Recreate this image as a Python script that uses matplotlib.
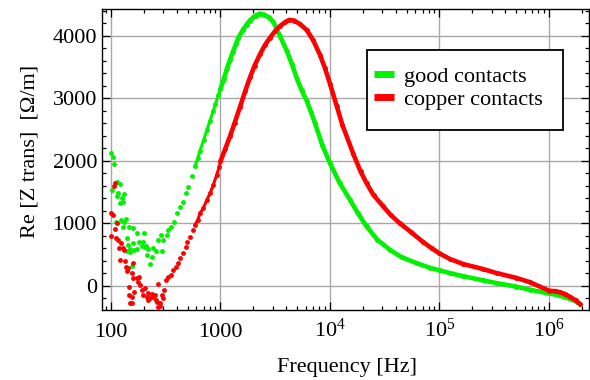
import matplotlib
matplotlib.use("Agg")
import matplotlib.pyplot as plt
from matplotlib.lines import Line2D
from matplotlib.patches import Rectangle
from matplotlib.ticker import FixedLocator, LogLocator, MultipleLocator, NullFormatter
import numpy as np

plt.rcParams['font.family'] = ['Liberation Serif', 'DejaVu Serif']
plt.rcParams['mathtext.fontset'] = 'custom'
plt.rcParams['mathtext.rm'] = 'Liberation Serif'
plt.rcParams['mathtext.it'] = 'Liberation Serif:italic'

# ---------------- data ----------------
green_freq = [101, 104, 107, 103, 114, 121, 131, 113, 128, 121, 111, 131, 137, 147, 160,
              174, 201, 158, 181, 191, 204, 141, 149, 162, 172, 219, 243, 212, 235, 227,
              154, 290, 270, 300, 284, 117, 125, 123, 130, 140, 143, 148, 196, 208, 256,
              322, 334, 351, 376, 398, 427, 451, 484, 508, 546, 584, 620, 650, 700, 750, 802,
              860, 900, 955, 1000, 1070, 1140, 1220, 1300, 1380, 1455, 1600, 1735, 1850,
              2000, 2100, 2295, 2500, 2750, 3035, 3500, 4020, 4500, 5000, 5500, 6120,
              6700, 7300, 8500, 10000, 12300, 15240, 18000, 21600, 27000, 35300, 45000,
              62000, 81900, 100000, 124700, 164700, 250000, 333000, 500000, 670000,
              1000000, 1200000, 1400000, 1600000, 1800000, 1920000]
green_val = [2126, 2062, 1946, 1531, 1663, 1622, 1462, 1435, 1345, 1329, 1016, 1026, 1064, 946, 920,
             850, 850, 681, 707, 643, 627, 563, 585, 574, 590, 585, 601, 494, 467, 351,
             319, 563, 734, 734, 813, 1480, 1400, 1053, 946, 760, 654, 547, 700, 640, 560,
             813, 893, 946, 1026, 1160, 1265, 1345, 1478, 1584, 1755, 1910, 2040, 2157, 2327, 2486, 2640,
             2800, 2907, 3044, 3150, 3300, 3460, 3610, 3740, 3860, 3963, 4090, 4176, 4240,
             4290, 4320, 4350, 4335, 4290, 4220, 3990, 3760, 3540, 3310, 3130, 2960,
             2780, 2600, 2250, 1960, 1640, 1376, 1160, 950, 740, 576, 460,
             363, 290, 250, 205, 155, 90, 45, -10, -60,
             -120, -145, -180, -215, -255, -288]

red_freq = [109, 107, 101, 105, 101, 109, 111, 117, 123, 128, 119, 131, 121, 134, 137,
            144, 160, 155, 160, 172, 181, 147, 162, 155, 155, 184, 191, 197, 212, 227,
            243, 257, 235, 219, 270, 290, 300, 270, 280, 147, 149, 280, 219, 113, 139,
            176, 206, 250, 265, 304,
            318, 334, 351, 366, 392, 412, 427, 458, 484, 498, 527, 558, 584, 620, 650,
            696, 750, 802, 860, 922, 975, 1000, 1100, 1222, 1350, 1508, 1680, 1859, 2050,
            2295, 2550, 2831, 3150, 3493, 3900, 4250, 4700, 5300, 6120, 7000, 8110, 9000,
            10000, 11500, 13000, 16330, 19000, 21600, 25000, 30700, 36000, 43500, 55000,
            71100, 85000, 100000, 124700, 164700, 250000, 333000, 500000, 670000,
            1000000, 1150000, 1260000, 1400000, 1560000, 1750000, 1920000]
red_val = [1648, 1595, 1160, 1132, 797, 909, 761, 734, 681, 601, 601, 574, 415, 404, 308,
           282, 362, 202, 122, 122, 148, -10, -90, -170, -266, 16, -64, -144, -170, -197,
           -170, -223, -128, -106, 32, -144, -197, -330, -276, -144, -266, -319, -223, 1000, 240,
           60, -40, -150, -260, -60,
           96, 148, 175, 255, 308, 362, 442, 521, 617, 707, 786, 893, 973, 1053, 1160,
           1239, 1372, 1478, 1611, 1770, 1903, 1990, 2180, 2390, 2610, 2860, 3110, 3330, 3520,
           3700, 3850, 3965, 4070, 4150, 4215, 4250, 4240, 4185, 4090, 3930, 3690, 3480,
           3230, 2880, 2570, 2110, 1830, 1640, 1450, 1270, 1130, 1000, 860,
           700, 600, 520, 430, 350, 270, 205, 130, 60,
           -75, -85, -100, -130, -175, -230, -290]

labels = ["good contacts", "copper contacts"]
x_major = [100, 1000, 1e4, 1e5, 1e6]
x_ticklabels = ["100", "1000", r"$\mathregular{10^{4}}$", r"$\mathregular{10^{5}}$", r"$\mathregular{10^{6}}$"]
y_major = [0, 1000, 2000, 3000, 4000]

GREEN = (0.0, 0.95, 0.0)
RED = (1.0, 0.0, 0.0)

fig = plt.figure(figsize=(5.9, 3.8), dpi=100)
ax = fig.add_axes([102/590, 1 - 310/380, 487/590, 301/380])

for fr, va, col in [(green_freq, green_val, GREEN), (red_freq, red_val, RED)]:
    fr = np.asarray(fr, float); va = np.asarray(va, float)
    ax.plot(fr, va, ls='none', marker='o', ms=3.5, mew=0, color=col, zorder=3)
    # thin joining line in the transition part, thick chain above
    m1 = (fr >= 560) & (fr <= 1000)
    o1 = np.argsort(fr[m1])
    ax.plot(fr[m1][o1], va[m1][o1], '-', lw=2.2, color=col, zorder=3,
            solid_capstyle='round', solid_joinstyle='round')
    m = fr >= 1000
    order = np.argsort(fr[m])
    ax.plot(fr[m][order], va[m][order], '-', lw=3.3, color=col, zorder=3,
            solid_capstyle='round', solid_joinstyle='round')

ax.set_xscale('log')
ax.set_xlim(82.8, 2.32e6)
ax.set_ylim(-384, 4424)

ax.xaxis.set_major_locator(FixedLocator(x_major))
ax.xaxis.set_minor_locator(LogLocator(base=10, subs=np.arange(2, 10)))
ax.xaxis.set_minor_formatter(NullFormatter())
ax.set_xticklabels(x_ticklabels, va='baseline')
ax.yaxis.set_major_locator(FixedLocator(y_major))
ax.yaxis.set_minor_locator(MultipleLocator(200))
ax.set_yticklabels([str(v) for v in y_major])

ax.tick_params(which='both', direction='in', top=True, right=True, labelsize=16, width=0.9)
ax.tick_params(axis='x', which='major', length=6, pad=19.4)
ax.tick_params(axis='y', which='major', length=6, pad=3.6)
ax.tick_params(which='minor', length=3)
for s in ax.spines.values():
    s.set_linewidth(1.0)

ax.grid(True, which='major', color='#a8a8a8', lw=1.0)
ax.set_axisbelow(True)

fig.text(347/590, 8/380, "Frequency [Hz]", ha='center', va='baseline', fontsize=16)
fig.text(35/590, (380 - 151.5)/380, "Re [Z trans]  [\u03a9/m]", rotation=90,
         rotation_mode='anchor', ha='center', va='baseline', fontsize=16)

handles = [Line2D([], [], color=GREEN, lw=5, solid_capstyle='butt'),
           Line2D([], [], color=RED, lw=5, solid_capstyle='butt')]
leg = ax.legend(handles, labels, loc='upper left', bbox_to_anchor=(0.5585, 0.809),
                frameon=False, borderpad=0, borderaxespad=0, fontsize=16,
                handlelength=0.9, handletextpad=0.45, labelspacing=0.1)
leg.set_zorder(6)
ax.add_patch(Rectangle((0.544, 0.598), 0.4025, 0.266, transform=ax.transAxes,
                       facecolor='white', edgecolor='black', lw=1.3, zorder=5))

fig.savefig("out.png", dpi=100)
